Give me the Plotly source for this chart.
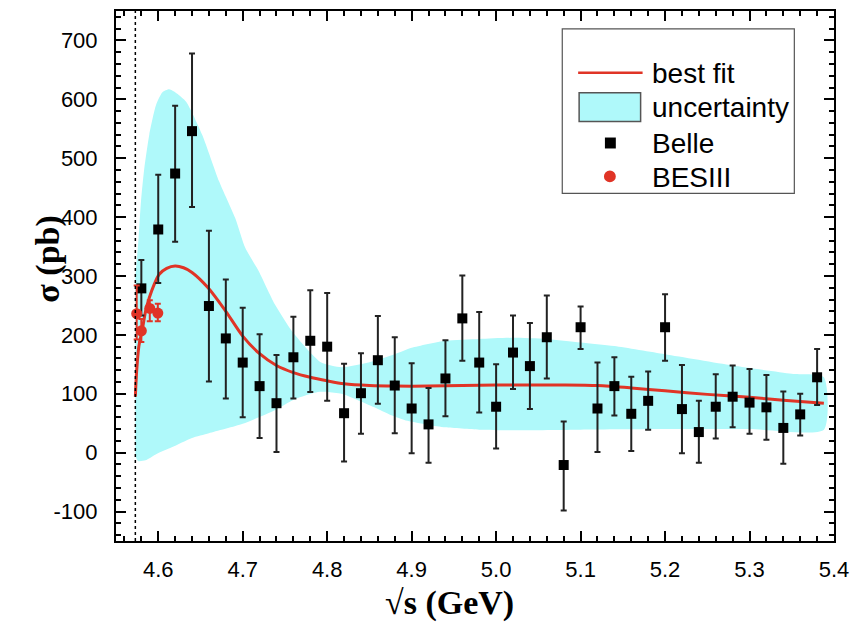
import plotly.graph_objects as go

# ---------------- data ----------------
belle_x = [4.58, 4.60, 4.62, 4.64, 4.66, 4.68, 4.70, 4.72, 4.74, 4.76, 4.78, 4.80,
           4.82, 4.84, 4.86, 4.88, 4.90, 4.92, 4.94, 4.96, 4.98, 5.00, 5.02, 5.04,
           5.06, 5.08, 5.10, 5.12, 5.14, 5.16, 5.18, 5.20, 5.22, 5.24, 5.26, 5.28,
           5.30, 5.32, 5.34, 5.36, 5.38]
belle_y = [279, 379, 474, 546, 249, 194, 153, 113, 84, 162, 190, 180,
           67, 101, 157, 114, 75, 48, 126, 228, 153, 78, 170, 147,
           196, -21, 213, 75, 113, 66, 88, 213, 74, 35, 78, 95,
           85, 77, 42, 65, 128]
belle_err_up = [48, 93, 115, 132, 128, 100, 93, 88, 82, 69, 86, 91,
                84, 68, 75, 82, 77, 62, 65, 73, 86, 72, 63, 73,
                71, 74, 35, 78, 49, 63, 50, 56, 75, 53, 55, 53,
                57, 55, 62, 35, 48]
belle_err_down = [46, 91, 116, 129, 128, 102, 93, 88, 83, 70, 87, 92,
                  82, 69, 74, 81, 76, 65, 64, 72, 85, 71, 62, 73,
                  70, 77, 37, 74, 50, 63, 49, 57, 75, 52, 54, 52,
                  53, 55, 61, 36, 47]

bes_x = [4.5745, 4.5800, 4.5900, 4.5995]
bes_y = [236, 207, 245, 237]
bes_err_up = [48, 20, 14, 16]
bes_err_down = [44, 19, 22, 14]

fit_x = [4.5729, 4.5745, 4.577, 4.5815, 4.585, 4.5894, 4.595, 4.6012, 4.61, 4.62,
         4.63, 4.64, 4.659, 4.68, 4.70, 4.72, 4.74, 4.76, 4.78, 4.80, 4.82, 4.85,
         4.88, 4.92, 4.96, 5.00, 5.04, 5.08, 5.12, 5.16, 5.20, 5.25, 5.30, 5.34, 5.388]
fit_y = [95, 140, 180, 212, 240, 263, 285, 303, 313, 317,
         314, 306, 280, 240, 198, 168, 148, 136, 128, 122, 117, 114,
         113, 113, 114, 115, 115, 115, 114, 110, 105, 99, 94, 89, 84]

band_up_x = [4.5729, 4.5768, 4.5796, 4.5835, 4.5894, 4.5973, 4.605, 4.613, 4.622,
             4.633, 4.652, 4.672, 4.691, 4.703, 4.719, 4.738, 4.758, 4.778, 4.793,
             4.817, 4.849, 4.880, 4.90, 4.94, 4.98, 5.02, 5.06, 5.10, 5.14, 5.20,
             5.28, 5.35, 5.388]
band_up_y = [300, 365, 427, 483, 540, 590, 612, 617, 610,
             596, 540, 461, 399, 348, 308, 252, 207, 173, 153,
             145, 153, 167, 178, 190, 193, 195, 193, 187, 181, 167,
             148, 134, 128]
band_lo_x = [4.5729, 4.576, 4.585, 4.597, 4.616, 4.64, 4.66, 4.70, 4.738, 4.762,
             4.789, 4.80, 4.817, 4.835, 4.856, 4.875, 4.895, 4.92, 4.94, 4.98,
             5.02, 5.10, 5.20, 5.30, 5.388]
band_lo_y = [-5, -14, -13, -3, 9, 25, 33, 49, 72, 91,
             103, 103, 100, 90, 77, 64, 54, 47, 43, 39,
             38, 39, 40, 40, 39]

threshold = 4.5729

x_range = [4.55, 5.40]
y_range = [-150, 750]
x_ticks = [4.6, 4.7, 4.8, 4.9, 5.0, 5.1, 5.2, 5.3, 5.4]
x_ticktext = ["4.6", "4.7", "4.8", "4.9", "5.0", "5.1", "5.2", "5.3", "5.4"]
y_ticks = [-100, 0, 100, 200, 300, 400, 500, 600, 700]
y_ticktext = ["-100", "0", "100", "200", "300", "400", "500", "600", "700"]

legend_labels = ["best fit", "uncertainty", "Belle", "BESIII"]

# ---------------- styles ----------------
RED = "#e03426"
CYAN = "#aff9fa"
W, H = 858, 625
ML, MR, MT, MB = 116, 18, 9, 84
PW, PH = W - ML - MR, H - MT - MB


def px(x):
    return (x - ML) / PW


def py(y):
    return (H - MB - y) / PH


fig = go.Figure()

# uncertainty band
fig.add_trace(go.Scatter(
    x=band_up_x + band_lo_x[::-1],
    y=band_up_y + band_lo_y[::-1],
    fill="toself", fillcolor=CYAN, mode="lines",
    line=dict(width=0, color=CYAN, shape="spline", smoothing=0.6),
    hoverinfo="skip", showlegend=False))

# best fit
fig.add_trace(go.Scatter(
    x=fit_x, y=fit_y, mode="lines",
    line=dict(color=RED, width=3, shape="spline", smoothing=0.8),
    showlegend=False))

# Belle
fig.add_trace(go.Scatter(
    x=belle_x, y=belle_y, mode="markers",
    marker=dict(symbol="square", size=10, color="black"),
    error_y=dict(type="data", symmetric=False, array=belle_err_up,
                 arrayminus=belle_err_down, color="#222222", thickness=2, width=3),
    showlegend=False))

# BESIII
fig.add_trace(go.Scatter(
    x=bes_x, y=bes_y, mode="markers",
    marker=dict(symbol="circle", size=11, color=RED),
    error_y=dict(type="data", symmetric=False, array=bes_err_up,
                 arrayminus=bes_err_down, color=RED, thickness=2, width=3),
    showlegend=False))

# invisible trace to activate mirror axes (top / right)
fig.add_trace(go.Scatter(x=[x_range[0]], y=[y_range[0]], xaxis="x2", yaxis="y2",
                         mode="markers", marker=dict(opacity=0), hoverinfo="skip",
                         showlegend=False))

shapes = [
    dict(type="line", xref="x", yref="paper", x0=threshold, x1=threshold, y0=0, y1=1,
         line=dict(color="black", width=1.5, dash="dot"), layer="above"),
]

# manual legend
lg_left, lg_right, lg_top, lg_bot = 566, 800, 27, 192
shapes.append(dict(type="rect", xref="paper", yref="paper",
                   x0=px(lg_left), x1=px(lg_right), y0=py(lg_bot), y1=py(lg_top),
                   line=dict(color="#555555", width=1.2), fillcolor="white"))
shapes.append(dict(type="line", xref="paper", yref="paper",
                   x0=px(582), x1=px(647), y0=py(71), y1=py(71),
                   line=dict(color=RED, width=2.5)))
shapes.append(dict(type="rect", xref="paper", yref="paper",
                   x0=px(583), x1=px(645), y0=py(120), y1=py(91),
                   line=dict(color="#555555", width=1.5), fillcolor=CYAN))
shapes.append(dict(type="rect", xref="paper", yref="paper",
                   x0=px(609), x1=px(620), y0=py(147), y1=py(136),
                   line=dict(width=0), fillcolor="black"))
shapes.append(dict(type="circle", xref="paper", yref="paper",
                   x0=px(608), x1=px(620), y0=py(181), y1=py(169),
                   line=dict(width=0), fillcolor=RED))

annotations = []
for lab, yc in zip(legend_labels, [72, 106, 142, 176]):
    annotations.append(dict(text=lab, xref="paper", yref="paper", x=px(654), y=py(yc),
                            xanchor="left", yanchor="middle", showarrow=False,
                            font=dict(family="Liberation Sans, Arial", size=28, color="black")))

annotations.append(dict(text="√s (GeV)", xref="paper", yref="paper", x=px(452), y=py(603),
                        xanchor="center", yanchor="middle", showarrow=False,
                        font=dict(family="Liberation Serif, Times New Roman", size=34,
                                  color="black", weight="bold")))
annotations.append(dict(text="σ (pb)", xref="paper", yref="paper", x=px(47), y=py(258),
                        xanchor="center", yanchor="middle", showarrow=False, textangle=-90,
                        font=dict(family="Liberation Serif, Times New Roman", size=34,
                                  color="black", weight="bold")))

tickfont = dict(family="Liberation Sans, Arial", size=22, color="black")
tick_common = dict(showgrid=False, zeroline=False, ticks="inside", ticklen=10,
                   tickwidth=2, tickcolor="black")

fig.update_layout(
    width=W, height=H,
    margin=dict(l=ML, r=MR, t=MT, b=MB),
    paper_bgcolor="white", plot_bgcolor="white",
    shapes=shapes, annotations=annotations,
    showlegend=False,
    xaxis=dict(range=x_range, tickvals=x_ticks, ticktext=x_ticktext,
               ticklabelstandoff=8, tickfont=tickfont,
               showline=True, linecolor="black", linewidth=2, mirror=True,
               minor=dict(dtick=0.02, tick0=4.6, ticks="inside", ticklen=5, tickwidth=1.5,
                          tickcolor="black"),
               **tick_common),
    yaxis=dict(range=y_range, tickvals=y_ticks, ticktext=y_ticktext,
               ticklabelstandoff=12, tickfont=tickfont,
               showline=True, linecolor="black", linewidth=2, mirror=True,
               minor=dict(dtick=20, tick0=0, ticks="inside", ticklen=5, tickwidth=1.5,
                          tickcolor="black"),
               **tick_common),
    xaxis2=dict(range=x_range, overlaying="x", side="top", anchor="y2",
                tickvals=x_ticks, showticklabels=False,
                minor=dict(dtick=0.02, tick0=4.6, ticks="inside", ticklen=5, tickwidth=1.5,
                           tickcolor="black"),
                **tick_common),
    yaxis2=dict(range=y_range, overlaying="y", side="right", anchor="x2",
                tickvals=y_ticks, showticklabels=False,
                minor=dict(dtick=20, tick0=0, ticks="inside", ticklen=5, tickwidth=1.5,
                           tickcolor="black"),
                **tick_common),
)

fig.write_html("out.html")
